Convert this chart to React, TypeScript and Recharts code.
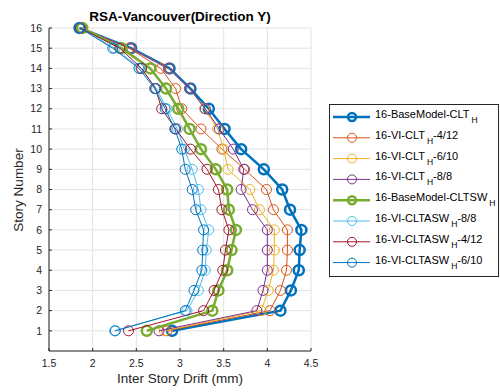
import React from "react";
import { ScatterChart, Scatter, XAxis, YAxis, CartesianGrid } from "recharts";

// story numbers, bottom to top
const stories = [1, 2, 3, 4, 5, 6, 7, 8, 9, 10, 11, 12, 13, 14, 15, 16];

// inter story drift (mm) per story
const baseClt = [2.91, 4.15, 4.27, 4.36, 4.37, 4.39, 4.26, 4.17, 3.96, 3.7, 3.51, 3.33, 3.12, 2.88, 2.44, 1.85];
const viClt412 = [2.85, 4.03, 4.15, 4.22, 4.23, 4.23, 4.07, 3.99, 3.74, 3.48, 3.24, 3.02, 2.95, 2.78, 2.42, 1.86];
const viClt610 = [2.82, 3.93, 4.01, 4.07, 4.08, 4.08, 3.91, 3.8, 3.55, 3.5, 3.43, 3.28, 3.11, 2.87, 2.43, 1.86];
const viClt88 = [2.76, 3.88, 3.95, 4.0, 4.0, 4.0, 3.83, 3.7, 3.73, 3.61, 3.45, 3.29, 3.11, 2.87, 2.43, 1.86];
const baseCltsw = [2.62, 3.37, 3.44, 3.54, 3.59, 3.64, 3.56, 3.54, 3.41, 3.24, 3.11, 2.98, 2.84, 2.66, 2.33, 1.88];
const viAsw88 = [2.25, 3.08, 3.21, 3.29, 3.3, 3.33, 3.24, 3.21, 3.14, 3.05, 2.97, 2.85, 2.73, 2.55, 2.25, 1.86];
const viAsw412 = [2.41, 3.27, 3.39, 3.49, 3.52, 3.56, 3.48, 3.44, 3.31, 3.12, 2.95, 2.79, 2.72, 2.56, 2.31, 1.86];
const viAsw610 = [2.26, 3.06, 3.16, 3.25, 3.26, 3.27, 3.18, 3.14, 3.06, 3.02, 2.94, 2.83, 2.71, 2.53, 2.23, 1.85];

const xTicks = [1.5, 2, 2.5, 3, 3.5, 4, 4.5];

type Series = {
  name: string;
  tail: string;
  color: string;
  values: number[];
  thick?: boolean;
};

const series: Series[] = [
  { name: "16-BaseModel-CLT", tail: "", color: "#0072BD", values: baseClt, thick: true },
  { name: "16-VI-CLT", tail: "-4/12", color: "#D95319", values: viClt412 },
  { name: "16-VI-CLT", tail: "-6/10", color: "#EDB120", values: viClt610 },
  { name: "16-VI-CLT", tail: "-8/8", color: "#7E2F8E", values: viClt88 },
  { name: "16-BaseModel-CLTSW", tail: "", color: "#77AC30", values: baseCltsw, thick: true },
  { name: "16-VI-CLTASW", tail: "-8/8", color: "#4DBEEE", values: viAsw88 },
  { name: "16-VI-CLTASW", tail: "-4/12", color: "#A2142F", values: viAsw412 },
  { name: "16-VI-CLTASW", tail: "-6/10", color: "#0072BD", values: viAsw610 },
];

const FONT = "'Liberation Sans', Arial, Helvetica, sans-serif";
const INK = "#262626";

function marker(color: string, thick?: boolean) {
  return (props: any) => (
    <circle
      cx={props.cx}
      cy={props.cy}
      r={thick ? 5 : 5}
      fill="none"
      stroke={color}
      strokeWidth={thick ? 2.5 : 1}
    />
  );
}

function LegendBox() {
  const rowH = 20.8;
  return (
    <svg
      width={170}
      height={173}
      style={{ position: "absolute", left: 329, top: 104, overflow: "visible" }}
    >
      <rect x={0.5} y={0.5} width={169} height={172} fill="#fff" stroke={INK} strokeWidth={1} />
      {series.map((s, i) => {
        const cy = 13 + i * rowH;
        return (
          <g key={i}>
            <line x1={4} x2={41} y1={cy} y2={cy} stroke={s.color} strokeWidth={s.thick ? 2.5 : 1} />
            <circle
              cx={23}
              cy={cy}
              r={s.thick ? 4 : 4.5}
              fill="none"
              stroke={s.color}
              strokeWidth={s.thick ? 2.5 : 1}
            />
            <text x={46} y={cy + 1} fontSize={11} fill="#000" fontFamily={FONT}>
              {s.name}
              <tspan dx={2} dy={5} fontSize={8.5}>H</tspan>
              {s.tail ? (
                <tspan dy={-5} fontSize={11}>{s.tail}</tspan>
              ) : null}
            </text>
          </g>
        );
      })}
    </svg>
  );
}

export default function App() {
  return (
    <div
      style={{
        position: "absolute",
        left: 0,
        top: 0,
        width: 500,
        height: 392,
        background: "#fff",
        fontFamily: FONT,
      }}
    >
      <ScatterChart
        width={500}
        height={392}
        margin={{ top: 28, right: 189, bottom: 10, left: 19 }}
      >
        <CartesianGrid stroke="#e3e3e3" strokeWidth={1} />
        <XAxis
          type="number"
          dataKey="x"
          domain={[1.5, 4.5]}
          ticks={xTicks}
          height={31}
          axisLine={{ stroke: INK }}
          tickLine={{ stroke: INK }}
          tickSize={-3}
          tickMargin={12}
          tick={{ fill: INK, fontSize: 10.5, fontFamily: FONT }}
        />
        <YAxis
          type="number"
          dataKey="y"
          domain={[0, 16]}
          ticks={stories}
          interval={0}
          width={30}
          axisLine={{ stroke: INK }}
          tickLine={{ stroke: INK }}
          tickSize={-3}
          tickMargin={10}
          tick={{ fill: INK, fontSize: 10.5, fontFamily: FONT }}
        />
        {series.map((s, i) => (
          <Scatter
            key={i}
            name={s.name + s.tail}
            data={stories.map((st, k) => ({ x: s.values[k], y: st }))}
            fill={s.color}
            line={{ stroke: s.color, strokeWidth: s.thick ? 2.5 : 1 }}
            lineType="joint"
            shape={marker(s.color, s.thick)}
            isAnimationActive={false}
          />
        ))}
      </ScatterChart>

      <div
        style={{
          position: "absolute",
          left: 49,
          width: 262,
          top: 9,
          textAlign: "center",
          fontWeight: "bold",
          fontSize: 13.5,
          color: "#000",
        }}
      >
        RSA-Vancouver(Direction Y)
      </div>
      <div
        style={{
          position: "absolute",
          left: 49,
          width: 262,
          top: 371,
          textAlign: "center",
          fontSize: 13.5,
          color: INK,
        }}
      >
        Inter Story Drift (mm)
      </div>
      <div
        style={{
          position: "absolute",
          left: 18,
          top: 190,
          transform: "translate(-50%, -50%) rotate(-90deg)",
          whiteSpace: "nowrap",
          fontSize: 13.5,
          color: INK,
        }}
      >
        Story Number
      </div>
      <LegendBox />
    </div>
  );
}
